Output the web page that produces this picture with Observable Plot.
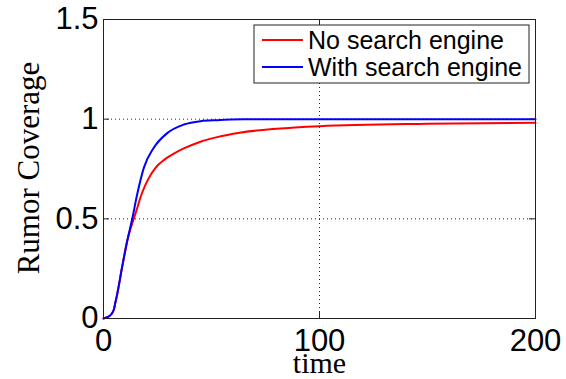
<!DOCTYPE html>
<html>
<head>
<meta charset="utf-8">
<script src="https://cdn.jsdelivr.net/npm/d3@7"></script>
<script src="https://cdn.jsdelivr.net/npm/@observablehq/plot@0.6"></script>
<style>
  html, body { margin: 0; padding: 0; background: #fff; }
  #chart { width: 566px; height: 379px; }
</style>
</head>
<body>
<div id="chart"></div>
<script>
const seriesNames = ["No search engine", "With search engine"];
const seriesColors = ["#ff0000", "#0000ff"];

const timeNo = [0, 2, 3.5, 4.8, 5.5, 6.3, 8.6, 11.0, 12.5, 14.0, 15.5, 17.1, 19.4, 21.8, 24, 26.5, 29.5, 33, 37.2, 44.9, 52.6, 63, 80, 100, 150, 200];
const valNo  = [0, 0.008, 0.02, 0.045, 0.08, 0.12, 0.257, 0.39, 0.45, 0.5, 0.55, 0.607, 0.67, 0.72, 0.755, 0.782, 0.807, 0.83, 0.853, 0.887, 0.91, 0.932, 0.952, 0.965, 0.977, 0.982];

const timeWith = [0, 2, 3.5, 4.8, 5.5, 6.3, 8.6, 11.0, 13.3, 15.6, 18.7, 23.3, 29.5, 37.2, 44.9, 52.6, 65, 100, 200];
const valWith  = [0, 0.008, 0.02, 0.045, 0.08, 0.12, 0.257, 0.39, 0.5, 0.623, 0.757, 0.857, 0.93, 0.973, 0.99, 0.995, 0.999, 1, 1];

const xTicks = [0, 100, 200];
const yTicks = [0, 0.5, 1, 1.5];
const xGrid = [100];
const yGrid = [0.5, 1];
const xLabel = "time";
const yLabel = "Rumor Coverage";

const data = [
  ...timeNo.map((t, i) => ({t, v: valNo[i], s: seriesNames[0]})),
  ...timeWith.map((t, i) => ({t, v: valWith[i], s: seriesNames[1]}))
];

const W = 566, H = 379;
const mL = 103, mR = 31, mT = 19, mB = 61;
const pw = W - mL - mR, ph = H - mT - mB;
const tickLen = 6;
const sans = "'Liberation Sans', Arial, sans-serif";
const serif = "'Liberation Serif', 'Times New Roman', serif";

const plot = Plot.plot({
  width: W,
  height: H,
  marginLeft: mL,
  marginRight: mR,
  marginTop: mT,
  marginBottom: mB,
  x: {domain: [0, 200]},
  y: {domain: [0, 1.5]},
  style: {background: "#fff", overflow: "visible"},
  marks: [
    Plot.ruleX(xGrid, {stroke: "#000", strokeWidth: 1, strokeDasharray: "1,3", strokeOpacity: 0.85}),
    Plot.ruleY(yGrid, {stroke: "#000", strokeWidth: 1, strokeDasharray: "1,3", strokeOpacity: 0.85}),
    Plot.line(data, {x: "t", y: "v", z: "s", stroke: "s", strokeWidth: 2, curve: "monotone-x"}),
    Plot.ruleX(xTicks, {stroke: "#222", insetTop: ph - tickLen}),
    Plot.ruleX(xTicks, {stroke: "#222", insetBottom: ph - tickLen}),
    Plot.ruleY(yTicks, {stroke: "#222", insetRight: pw - tickLen}),
    Plot.ruleY(yTicks, {stroke: "#222", insetLeft: pw - tickLen}),
    Plot.frame({stroke: "#222", strokeWidth: 1}),
    Plot.axisX({ticks: xTicks, tickSize: 0, tickPadding: 10, fontSize: 31, fontFamily: sans, fill: "#000", label: null, tickFormat: d => String(d)}),
    Plot.axisY({ticks: yTicks, tickSize: 0, tickPadding: 5, fontSize: 31, fontFamily: sans, fill: "#000", label: null, tickFormat: d => String(d)}),
    Plot.text([xLabel], {frameAnchor: "bottom", lineAnchor: "middle", dy: 45, fontSize: 30, fontFamily: serif, fill: "#000", text: d => d}),
    Plot.text([yLabel], {frameAnchor: "left", lineAnchor: "middle", textAnchor: "middle", dx: -74, dy: -1, rotate: -90, fontSize: 31, fontFamily: serif, fill: "#000", text: d => d})
  ],
  color: {domain: seriesNames, range: seriesColors}
});

// Legend (inside plot area, top right)
const svg = d3.select(plot);
const lg = svg.append("g").attr("transform", "translate(254,25)").attr("text-anchor", "start");
lg.append("rect").attr("width", 275).attr("height", 58).attr("fill", "#fff").attr("stroke", "#222").attr("stroke-width", 1);
seriesNames.forEach((name, i) => {
  const y = 15 + i * 27;
  lg.append("line").attr("x1", 8).attr("x2", 49).attr("y1", y).attr("y2", y)
    .attr("stroke", seriesColors[i]).attr("stroke-width", 2);
  lg.append("text").attr("x", 54).attr("y", y).attr("dy", "0.35em").attr("text-anchor", "start")
    .attr("font-family", sans).attr("font-size", 25).attr("fill", "#000").text(name);
});

document.getElementById("chart").appendChild(plot);
</script>
</body>
</html>
